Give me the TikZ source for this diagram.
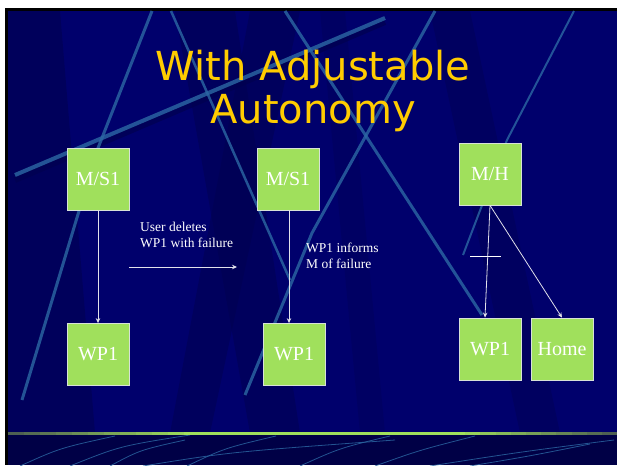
\documentclass[tikz,border=0pt]{standalone}
\usepackage{fontspec}
\setmainfont{Liberation Serif}
\newfontfamily\titlefont{DejaVu Sans}
\usetikzlibrary{arrows.meta,calc}
\definecolor{navy}{RGB}{0,0,108}
\definecolor{navydark}{RGB}{0,0,80}
\definecolor{navyband}{RGB}{0,0,70}
\definecolor{streak}{RGB}{44,104,164}
\definecolor{boxgreen}{RGB}{160,224,92}
\definecolor{boxedge}{RGB}{215,225,215}
\definecolor{titlegold}{RGB}{255,204,0}
\definecolor{sepgray}{RGB}{78,96,82}
\definecolor{arrowgray}{RGB}{225,225,235}
\tikzset{
  greenbox/.style={draw=boxedge, line width=0.8pt, fill=boxgreen, minimum width=62pt,
    minimum height=62pt, inner sep=0pt, text=white, font=\fontsize{20}{22}\selectfont},
  notelabel/.style={text=white, align=left, inner sep=0pt,
    font=\fontsize{13.5}{16}\selectfont},
  link/.style={draw=arrowgray, line width=0.8pt, -{Stealth[length=5pt,width=4.5pt]}},
  streakline/.style={draw=streak, opacity=0.8},
  bandline/.style={draw=streak, line width=0.8pt, opacity=0.8}
}
\begin{document}
\begin{tikzpicture}[x=1pt,y=-1pt]
\useasboundingbox (0,0) rectangle (617,465);
% slide frame
\fill[white] (0,0) rectangle (617,465);
\fill[black] (5,8) rectangle (617,465);
\fill[navy] (8,11) rectangle (617,433);
% subtle wedges
\begin{scope}
\clip (8,11) rectangle (617,433);
\fill[navydark, opacity=0.6] (8,11) -- (60,11) -- (95,433) -- (8,433) -- cycle;
\fill[navydark, opacity=0.5] (175,11) -- (235,11) -- (300,433) -- (250,433) -- cycle;
\fill[navydark, opacity=0.5] (250,11) -- (300,11) -- (210,433) -- (170,433) -- cycle;
\fill[navydark, opacity=0.4] (430,11) -- (470,11) -- (560,433) -- (520,433) -- cycle;
\fill[navydark, opacity=0.3] (320,11) -- (345,11) -- (385,433) -- (360,433) -- cycle;
% streaks
\draw[navydark, line width=6pt, opacity=0.7] (15,180) -- (385,22);
\draw[streakline, line width=4pt] (15,175) -- (385,18);
\draw[streakline, line width=3pt] (152,11) -- (98,148) -- (22,400);
\draw[streakline, line width=2.5pt] (171,11) -- (290,280);
\draw[streakline, line width=3pt] (435,11) -- (312,233) -- (245,395);
\draw[streakline, line width=3pt] (285,11) -- (482,315);
\draw[streakline, line width=2pt] (574,11) -- (507,140) -- (463,255);
\end{scope}
% bottom band
\fill[navyband] (8,435) rectangle (617,465);
\begin{scope}
\clip (8,435) rectangle (617,465);
\draw[bandline] (20,466) .. controls (60,448) .. (115,436);
\draw[bandline] (70,466) .. controls (120,446) .. (190,435);
\draw[bandline] (110,466) .. controls (140,450) .. (185,440);
\draw[bandline] (143,466) .. controls (230,452) .. (395,440);
\draw[bandline] (187,466) .. controls (225,448) .. (276,436);
\draw[bandline] (300,466) .. controls (340,448) .. (390,436);
\draw[bandline] (375,466) .. controls (420,450) .. (475,436);
\draw[bandline] (430,466) .. controls (520,452) .. (614,440);
\draw[bandline] (470,466) .. controls (530,456) .. (590,444);
\end{scope}
% separator (stepped gradient)
\foreach \i in {0,...,11} {
  \pgfmathsetmacro{\pa}{100-\i*100/11}
  \fill[sepgray!\pa!boxgreen] ({8+\i*16},432) rectangle ({8+(\i+1)*16+0.5},435);
}
\fill[boxgreen] (200,432) rectangle (451,435);
\foreach \i in {0,...,10} {
  \pgfmathsetmacro{\pb}{\i*100/10}
  \fill[sepgray!\pb!boxgreen] ({450+\i*15.2},432) rectangle ({450+(\i+1)*15.2+0.5},435);
}
% title
\node[font=\titlefont\fontsize{40}{43}\selectfont, text=titlegold, align=center,
  inner sep=0pt, anchor=north] (title) at (313,50) {With Adjustable\\Autonomy};
% boxes
\node[greenbox] (ms1a) at (98,179) {M/S1};
\node[greenbox] (wp1a) at (98,354.5) {WP1};
\node[greenbox] (ms1b) at (288,179) {M/S1};
\node[greenbox] (wp1b) at (294,354.5) {WP1};
\node[greenbox] (mh) at (490,174) {M/H};
\node[greenbox] (wp1c) at (490,349) {WP1};
\node[greenbox] (home) at (562,349) {Home};
% labels
\node[notelabel, anchor=north west] (lab1) at (140,222) {User deletes\\WP1 with failure};
\node[notelabel, anchor=north west] (lab2) at (306,243) {WP1 informs\\M of failure};
% connectors
\draw[link] (ms1a.south) -- (wp1a.north);
\draw[link] ($(ms1b.south)+(1,0)$) -- ($(ms1b.south |- wp1b.north)+(1,0)$);
\coordinate (h1) at (129,267);
\coordinate (h2) at (237,267);
\draw[link] (h1) -- (h2);
\draw[link] (mh.south) -- ($(wp1c.north)+(-5,0)$);
\draw[link] (mh.south) -- (home.north);
\coordinate (t1) at (470,256);
\coordinate (t2) at (501,256);
\draw[draw=white, line width=1pt] (t1) -- (t2);
\end{tikzpicture}
\end{document}
